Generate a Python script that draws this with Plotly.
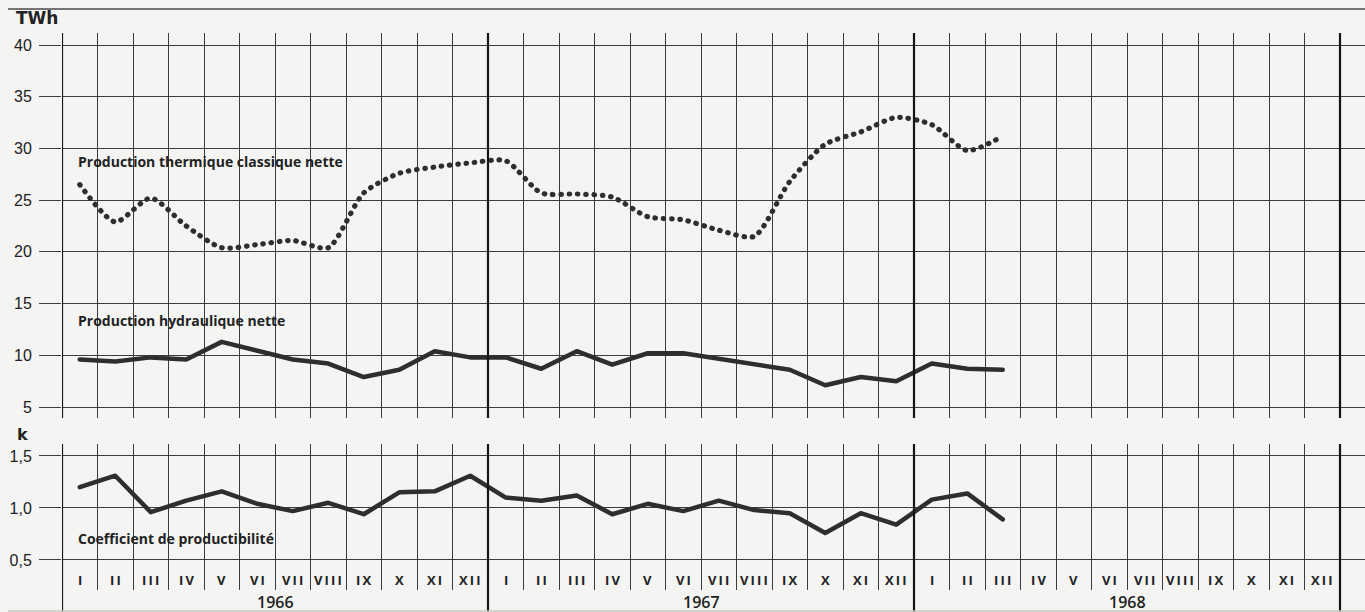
import plotly.graph_objects as go

# ---- data -------------------------------------------------------------
years = ["1966", "1967", "1968"]
months = ["I", "II", "III", "IV", "V", "VI", "VII", "VIII", "IX", "X", "XI", "XII"]

# monthly net production, TWh (Jan 1966 .. Mar 1968)
thermique = [26.5, 22.9, 25.2, 22.5, 20.4, 20.7, 21.1, 20.4, 25.7, 27.6, 28.2, 28.6,
             28.8, 25.7, 25.6, 25.3, 23.4, 23.1, 22.1, 21.5, 26.8, 30.4, 31.6, 33.0,
             32.3, 29.8, 31.2]
hydraulique = [9.6, 9.4, 9.8, 9.6, 11.3, 10.5, 9.6, 9.2, 7.9, 8.6, 10.4, 9.8,
               9.8, 8.7, 10.4, 9.1, 10.2, 10.2, 9.7, 9.2, 8.6, 7.1, 7.9, 7.5,
               9.2, 8.7, 8.6]
# hydraulic productibility coefficient k
coefficient = [1.20, 1.31, 0.96, 1.07, 1.16, 1.04, 0.97, 1.05, 0.94, 1.15, 1.16, 1.31,
               1.10, 1.07, 1.12, 0.94, 1.04, 0.97, 1.07, 0.98, 0.95, 0.76, 0.95, 0.84,
               1.08, 1.14, 0.89]

twh_ticks = [5, 10, 15, 20, 25, 30, 35, 40]
k_ticks = [0.5, 1.0, 1.5]
k_ticktext = ["0,5", "1,0", "1,5"]

# ---- page geometry (pixels) ------------------------------------------
W, H = 1365, 612
X0, X_END = 62, 1340          # left axis, end of the three-year frame
N_MONTHS = len(years) * len(months)
MONTH_PX = (X_END - X0) / N_MONTHS
TOP_Y0, TOP_Y1 = 33, 418      # upper panel, pixel rows
BOT_Y0, BOT_Y1 = 444, 590     # lower panel, pixel rows


def fx(px):
    return px / W


def fy(py):
    return 1 - py / H


x_range = [0, (W - X0) / MONTH_PX]
x_mid = [i + 0.5 for i in range(len(thermique))]

BG = "#f4f4f3"
GRID = "#3c3c3c"
INK = "#222222"
LINE = "#2e2e2e"
TICK_FONT = dict(family="Liberation Sans, Arial, sans-serif", size=16, color=INK)
LABEL_FONT = dict(family="Open Sans, sans-serif", size=14, color=INK, weight="bold")
THIN = "\u2009"

fig = go.Figure()

fig.add_trace(go.Scatter(
    x=x_mid[:len(thermique)], y=thermique, xaxis="x", yaxis="y",
    mode="lines", line=dict(color=LINE, width=5.2, dash="0.5px,7.8px",
                            shape="spline", smoothing=0.7),
    hoverinfo="skip", showlegend=False))

fig.add_trace(go.Scatter(
    x=x_mid[:len(hydraulique)], y=hydraulique, xaxis="x", yaxis="y",
    mode="lines", line=dict(color=LINE, width=4.5),
    hoverinfo="skip", showlegend=False))

fig.add_trace(go.Scatter(
    x=x_mid[:len(coefficient)], y=coefficient, xaxis="x2", yaxis="y2",
    mode="lines", line=dict(color=LINE, width=4.5),
    hoverinfo="skip", showlegend=False))

axis_x = dict(domain=[fx(X0), 1], range=x_range, tick0=0, dtick=1,
              showgrid=True, gridcolor=GRID, gridwidth=1,
              showticklabels=False, ticks="", zeroline=False, showline=False,
              fixedrange=True)

fig.update_layout(
    width=W, height=H,
    margin=dict(l=0, r=0, t=0, b=0),
    paper_bgcolor=BG, plot_bgcolor=BG,
    xaxis=dict(axis_x, anchor="y"),
    xaxis2=dict(axis_x, anchor="y2"),
    yaxis=dict(domain=[fy(TOP_Y1), fy(TOP_Y0)], range=[3.94, 41.16],
               tickvals=twh_ticks, ticks="outside", ticklen=22,
               tickcolor=GRID, tickwidth=1, ticklabelstandoff=4,
               showgrid=True, gridcolor=GRID, gridwidth=1,
               zeroline=False, showline=False, tickfont=TICK_FONT,
               anchor="x", fixedrange=True),
    yaxis2=dict(domain=[fy(BOT_Y1), fy(BOT_Y0)], range=[0.2115, 1.615],
                tickvals=k_ticks, ticktext=k_ticktext, ticks="outside",
                ticklen=22, tickcolor=GRID, tickwidth=1, ticklabelstandoff=4,
                showgrid=True, gridcolor=GRID, gridwidth=1,
                zeroline=False, showline=False, tickfont=TICK_FONT,
                anchor="x2", fixedrange=True),
)

# heavy frame lines at each year boundary
shapes = []
for b in range(len(years) + 1):
    xb = b * len(months)
    shapes.append(dict(type="line", xref="x", yref="y domain",
                       x0=xb, x1=xb, y0=0, y1=1,
                       line=dict(color="#151515", width=2.2)))
    shapes.append(dict(type="line", xref="x2", yref="paper",
                       x0=xb, x1=xb, y0=0, y1=fy(BOT_Y0),
                       line=dict(color="#151515", width=2.2)))
# rule across the top of the page and faint bottom edge
shapes.append(dict(type="line", xref="paper", yref="paper",
                   x0=fx(8), x1=1, y0=fy(9), y1=fy(9),
                   line=dict(color="#4a4a4a", width=1.5)))
shapes.append(dict(type="line", xref="paper", yref="paper",
                   x0=fx(8), x1=1, y0=fy(611), y1=fy(611),
                   line=dict(color="#c8c8c0", width=1.5)))
fig.update_layout(shapes=shapes)

annotations = [
    dict(text="TWh", x=fx(14), y=fy(18), xanchor="left", yanchor="middle",
         font=dict(family="DejaVu Sans, sans-serif", size=17,
                   color=INK, weight="bold")),
    dict(text="k", x=fx(15), y=fy(434), xanchor="left", yanchor="middle",
         font=dict(family="DejaVu Sans, sans-serif", size=16,
                   color=INK, weight="bold")),
    dict(text="Production thermique classique nette", x=fx(76), y=fy(162),
         xanchor="left", yanchor="middle", font=LABEL_FONT),
    dict(text="Production hydraulique nette", x=fx(76), y=fy(320),
         xanchor="left", yanchor="middle", font=LABEL_FONT),
    dict(text="Coefficient de productibilité", x=fx(76), y=fy(538),
         xanchor="left", yanchor="middle", font=LABEL_FONT),
]
for yi, yr in enumerate(years):
    for mi, m in enumerate(months):
        annotations.append(dict(
            text=THIN.join(m), x=yi * len(months) + mi + 0.5, xref="x2",
            y=fy(580), yref="paper", xanchor="center", yanchor="middle",
            font=dict(family="Open Sans, sans-serif", size=13, color=INK,
                      weight="bold"),
            bgcolor=BG))
    annotations.append(dict(
        text=yr, x=(yi + 0.5) * len(months), xref="x2",
        y=fy(602), yref="paper", xanchor="center", yanchor="middle",
        font=dict(family="Open Sans, sans-serif", size=16, color=INK,
                  weight=600)))
for a in annotations:
    a.setdefault("xref", "paper")
    a.setdefault("yref", "paper")
    a["showarrow"] = False
fig.update_layout(annotations=annotations)

# round line caps so the dash pattern of the thermal series reads as dots
round_caps = (
    "var s=document.createElement('style');"
    "s.textContent='.scatterlayer path.js-line{stroke-linecap:round;stroke-linejoin:round}';"
    "document.head.appendChild(s);"
)

fig.write_html("out.html", post_script=round_caps,
               config={"displayModeBar": False, "staticPlot": True})
